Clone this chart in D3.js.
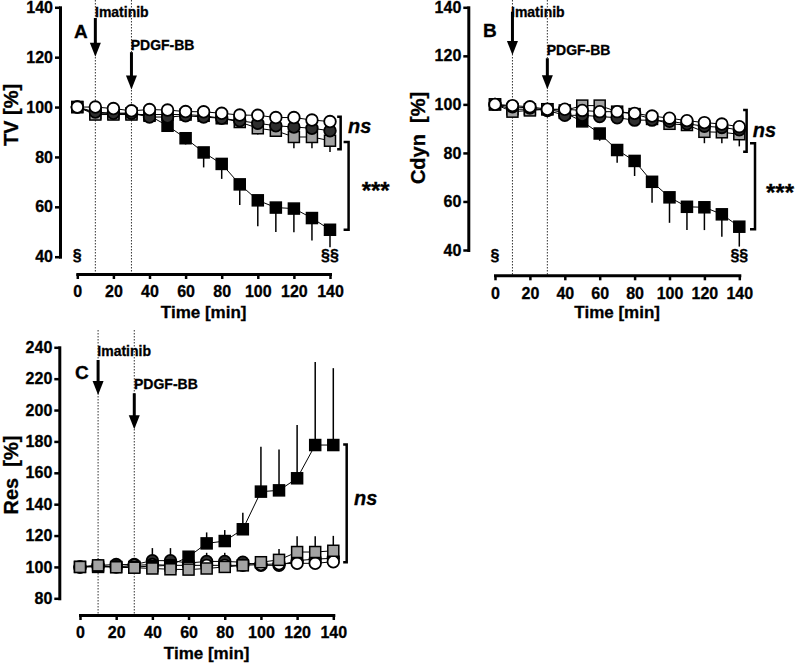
<!DOCTYPE html>
<html><head><meta charset="utf-8">
<script src="https://cdn.jsdelivr.net/npm/d3@7"></script>
<style>
body{margin:0;background:#fff}
text{font-family:"Liberation Sans",Arial,sans-serif;font-weight:bold;fill:#000;stroke:#000;stroke-width:0.3px}
</style>
</head><body><svg id="chart" width="797" height="665"></svg>
<script>
// ---------- data ----------
const time = [0,10,20,30,40,50,60,70,80,90,100,110,120,130,140];
const xTicks = [0,20,40,60,80,100,120,140];
const tvTicks = [40,60,80,100,120,140];
const cdynTicks = [40,60,80,100,120,140];
const resTicks = [80,100,120,140,160,180,200,220,240];

// Panel A: TV [%]
const tvBlackSq     = [100,97.5,97.5,97.5,96.5,92.5,87.5,81.8,77.2,69,62.6,59.7,59.3,55.5,50.8];
const tvBlackSqErr  = [0,0,0,0,1,1.5,2.5,6,6,8.3,10.4,9.8,9.5,9,7];
const tvGraySq      = [100,97,97,97,97,97,97,96.5,95.5,94,91.5,90.5,88,88,86.5];
const tvGraySqErr   = [0,0,0,0,0,0,0,0,1,2,2.5,2,4.5,4.5,4.5];
const tvDarkCirc    = [100,98,97.5,97.5,96,96,96.5,96,95.5,94.5,93.5,92.5,92,91.5,90.5];
const tvDarkCircErr = [0,0,0,0,0,0,0,0,0,0,0,0,0,0,0];
const tvWhiteCirc   = [100,100,99.4,98.5,99,98.8,98.2,98.1,97.5,96.8,96.7,95.8,95.8,94.8,94.2];
const tvWhiteCircErr= [0,0,0,0,0,0,0,0,0,0,0,0,0,0,0];

// Panel B: Cdyn [%]
const cdynBlackSq     = [100,98,98,98,96.5,93,88,81.2,76.7,68.1,61.7,57.8,57.6,54.7,49.6];
const cdynBlackSqErr  = [0,0,0,0,1,1.5,3,5.2,6.2,8.6,10.5,9.6,9.4,9.2,8.2];
const cdynGraySq      = [100,97,97.5,98,97.5,99.5,99.5,97,96,94,92,91.5,88.7,88.5,87.7];
const cdynGraySqErr   = [0,0,0,0,0,0,0,0,1,1.5,2,2,4.7,4.5,5];
const cdynDarkCirc    = [100,99,98.5,97.5,95.5,95.5,95,94.5,93.5,93.5,93,92,91,90.5,89.5];
const cdynDarkCircErr = [0,0,0,0,0,0,0,0,0,0,0,0,0,0,0];
const cdynWhiteCirc   = [100,99.5,99,98,98,97.5,97,97,96.3,95.2,94.3,93.3,92.5,91.9,90.8];
const cdynWhiteCircErr= [0,0,0,0,0,0,0,0,0,0,0,0,0,0,0];

// Panel C: Res [%]
const resBlackSq     = [100,100,100,100,100.5,101,106.5,115,116.5,124,148,148.8,156.5,177.7,177.7];
const resBlackSqErr  = [0,0,0,0,0,0,1,7,7,10.6,28.6,26,34,53,49];
const resGraySq      = [100,101,99.8,99.5,99,98.5,98.3,99,100,101,103,104.5,109.5,109.5,110.3];
const resGraySqErr   = [0,1,0,0,0,0,0,0,0,0,3,7,10,10,9.5];
const resDarkCirc    = [100,101,101.5,101.5,104,104,102.5,103.5,103.5,103,101,101,104,105,105.5];
const resDarkCircErr = [0,2,0,0,8,8,0,5.5,5.5,2,0,0,0,0,0];
const resWhiteCirc   = [100,100.5,100,101,101.5,101,101,101,101,101,101.5,102,102.3,102.3,103.3];
const resWhiteCircErr= [0,0,0,0,0,0,0,0,0,0,0,0,0,0,0];

// ---------- styles ----------
const STYLE = {
  blackSq:  {shape:"square", fill:"#000"},
  graySq:   {shape:"square", fill:"#a3a3a3"},
  darkCirc: {shape:"circle", fill:"#2e2e2e"},
  whiteCirc:{shape:"circle", fill:"#fff"}
};

const panels = [
  {
    letter:"A", letterXY:[74,37.5], yTitle:"TV [%]", yTitleXY:[18,115],
    yDomain:[40,140], yTicks:tvTicks, xr:[77.3,330], yr:[256.7,7.3], axisY:274, axisX:60,
    errUp:false, dotTop:0, xTitleY:318,
    series:[
      {v:tvBlackSq, e:tvBlackSqErr, s:"blackSq"},
      {v:tvGraySq, e:tvGraySqErr, s:"graySq"},
      {v:tvDarkCirc, e:tvDarkCircErr, s:"darkCirc"},
      {v:tvWhiteCirc, e:tvWhiteCircErr, s:"whiteCirc"}
    ],
    arrows:[{t:10,v0:135.7,v1:120.2,label:"Imatinib",lx:95,ly:16.7},
            {t:30,v0:122,v1:107,label:"PDGF-BB",lx:130.7,ly:50}],
    brackets:[{t:145.9,v0:96.1,v1:83.1,w:3.5,label:"ns",lx:348,ly:133.3,italic:true,size:20},
              {t:150.3,v0:86,v1:50.8,w:5,label:"***",lx:361.7,ly:199,italic:false,size:24}],
    marks:[{t:0,label:"§",y:261},{t:140,label:"§§",y:261}]
  },
  {
    letter:"B", letterXY:[483,36.7], yTitle:"Cdyn  [%]", yTitleXY:[425,138],
    yDomain:[40,140], yTicks:cdynTicks, xr:[495,739.3], yr:[250,7.3], axisY:275.3, axisX:468.3,
    errUp:false, dotTop:0, xTitleY:318,
    series:[
      {v:cdynBlackSq, e:cdynBlackSqErr, s:"blackSq"},
      {v:cdynGraySq, e:cdynGraySqErr, s:"graySq"},
      {v:cdynDarkCirc, e:cdynDarkCircErr, s:"darkCirc"},
      {v:cdynWhiteCirc, e:cdynWhiteCircErr, s:"whiteCirc"}
    ],
    arrows:[{t:10,v0:138.2,v1:120.3,label:"Imatinib",lx:511,ly:16.7},
            {t:30,v0:119,v1:106.2,label:"PDGF-BB",lx:546.7,ly:55}],
    brackets:[{t:144.2,v0:97.7,v1:80.5,w:3.5,label:"ns",lx:752.7,ly:136.7,italic:true,size:20},
              {t:149,v0:84,v1:48.5,w:5,label:"***",lx:766,ly:200.5,italic:false,size:24}],
    marks:[{t:0,label:"§",y:261},{t:140,label:"§§",y:261}]
  },
  {
    letter:"C", letterXY:[75,379.3], yTitle:"Res  [%]", yTitleXY:[18,475],
    yDomain:[80,240], yTicks:resTicks, xr:[80,333.3], yr:[598.3,347.3], axisY:615, axisX:59.3,
    errUp:true, dotTop:330, xTitleY:659,
    series:[
      {v:resDarkCirc, e:resDarkCircErr, s:"darkCirc"},
      {v:resWhiteCirc, e:resWhiteCircErr, s:"whiteCirc"},
      {v:resBlackSq, e:resBlackSqErr, s:"blackSq"},
      {v:resGraySq, e:resGraySqErr, s:"graySq"}
    ],
    arrows:[{t:10,v0:231.9,v1:209.6,label:"Imatinib",lx:97.3,ly:356},
            {t:30,v0:210.7,v1:187.7,label:"PDGF-BB",lx:134,ly:389}],
    brackets:[{t:147.4,v0:178,v1:103,w:3.5,label:"ns",lx:354,ly:505,italic:true,size:20}],
    marks:[]
  }
];

const svg = d3.select("#chart");

panels.forEach(p => {
  const g = svg.append("g");
  const x = d3.scaleLinear().domain([0,140]).range(p.xr);
  const y = d3.scaleLinear().domain(p.yDomain).range(p.yr);

  // dotted intervention lines
  [10,30].forEach(t => {
    g.append("line").attr("x1",x(t)).attr("x2",x(t))
      .attr("y1",p.dotTop).attr("y2",p.axisY)
      .attr("stroke","#333").attr("stroke-width",1).attr("stroke-dasharray","1.5,1.5");
  });

  // axes
  const yAxis = d3.axisLeft(y).tickValues(p.yTicks).tickSize(5).tickSizeOuter(0).tickPadding(2);
  const gy = g.append("g").attr("transform",`translate(${p.axisX},0)`).call(yAxis);
  const xAxis = d3.axisBottom(x).tickValues(xTicks).tickSize(5).tickSizeOuter(0).tickPadding(7);
  const gx = g.append("g").attr("transform",`translate(0,${p.axisY})`).call(xAxis);
  [gx,gy].forEach(a => {
    a.select(".domain").attr("stroke","#000").attr("stroke-width",3).attr("stroke-linecap","square");
    a.selectAll(".tick line").attr("stroke","#000").attr("stroke-width",2.5);
    a.selectAll(".tick text").style("font-size","16px").style("font-family",'"Liberation Sans",Arial,sans-serif')
      .style("font-weight","bold").attr("fill","#000").attr("stroke","#000").attr("stroke-width",0.3);
  });

  // titles
  g.append("text").attr("x",(p.xr[0]+p.xr[1])/2).attr("y",p.xTitleY)
    .attr("text-anchor","middle").style("font-size","17px").text("Time [min]");
  g.append("text").attr("transform",`translate(${p.yTitleXY[0]},${p.yTitleXY[1]}) rotate(-90)`)
    .attr("text-anchor","middle").style("font-size","20px").style("white-space","pre").text(p.yTitle);
  g.append("text").attr("x",p.letterXY[0]).attr("y",p.letterXY[1]).style("font-size","19px").text(p.letter);

  // arrows
  p.arrows.forEach(a => {
    const ax = x(a.t), y0 = y(a.v0), y1 = y(a.v1);
    g.append("line").attr("x1",ax).attr("x2",ax).attr("y1",y0).attr("y2",y1-12)
      .attr("stroke","#000").attr("stroke-width",3);
    g.append("path").attr("d",`M${ax-5.5},${y1-14}L${ax+5.5},${y1-14}L${ax},${y1}Z`).attr("fill","#000");
    g.append("text").attr("x",a.lx).attr("y",a.ly).style("font-size","14px").text(a.label);
  });

  // connecting lines
  const line = d3.line().x((d,i)=>x(time[i])).y(d=>y(d));
  p.series.forEach(s => {
    g.append("path").datum(s.v).attr("d",line).attr("fill","none").attr("stroke","#000").attr("stroke-width",1);
  });

  // error bars + markers
  p.series.forEach(s => {
    const st = STYLE[s.s];
    const sg = g.append("g");
    s.v.forEach((d,i) => {
      if (s.e[i] > 0) {
        const ye = p.errUp ? d + s.e[i] : d - s.e[i];
        sg.append("line").attr("x1",x(time[i])).attr("x2",x(time[i]))
          .attr("y1",y(d)).attr("y2",y(ye)).attr("stroke","#000").attr("stroke-width",1.5);
      }
    });
    if (st.shape === "square") {
      sg.selectAll("rect").data(s.v).enter().append("rect")
        .attr("x",(d,i)=>x(time[i])-5.5).attr("y",d=>y(d)-5.5)
        .attr("width",11).attr("height",11)
        .attr("fill",st.fill).attr("stroke","#000").attr("stroke-width",1.5);
    } else {
      sg.selectAll("circle").data(s.v).enter().append("circle")
        .attr("cx",(d,i)=>x(time[i])).attr("cy",d=>y(d)).attr("r",5.8)
        .attr("fill",st.fill).attr("stroke","#000").attr("stroke-width",1.8);
    }
  });

  // significance brackets
  p.brackets.forEach(b => {
    const bx = x(b.t), ya = y(b.v0), yb = y(b.v1);
    g.append("path").attr("d",`M${bx-b.w},${ya}H${bx}V${yb}H${bx-b.w}`)
      .attr("fill","none").attr("stroke","#000").attr("stroke-width",2.5);
    g.append("text").attr("x",b.lx).attr("y",b.ly)
      .style("font-size",b.size+"px").style("font-style",b.italic?"italic":"normal").text(b.label);
  });

  // § marks
  p.marks.forEach(m => {
    g.append("text").attr("x",x(m.t)).attr("y",m.y).attr("text-anchor","middle")
      .style("font-size","16px").text(m.label);
  });
});
</script>
</body></html>
